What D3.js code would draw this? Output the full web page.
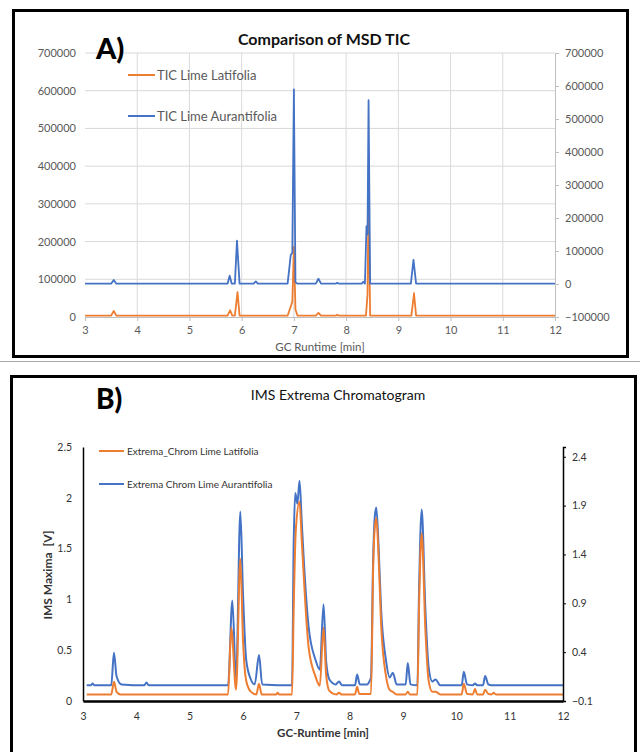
<!DOCTYPE html>
<html>
<head>
<meta charset="utf-8">
<script src="https://cdn.jsdelivr.net/npm/d3@7"></script>
<style>
  body { margin: 0; background: #fff; }
  svg { display: block; font-family: Lato, "Open Sans", sans-serif; }
</style>
</head>
<body>
<div id="chart"></div>
<script>
// ---- panel A: MSD TIC (orange on left axis, blue on right axis)
const ticTicksX = [3, 4, 5, 6, 7, 8, 9, 10, 11, 12];
const ticTicksLeft = [0, 100000, 200000, 300000, 400000, 500000, 600000, 700000];
const ticTicksRight = [-100000, 0, 100000, 200000, 300000, 400000, 500000, 600000, 700000];

const ticLatTime = [3.00, 3.50, 3.55, 3.60, 5.73, 5.78, 5.82, 5.87, 5.92, 5.96, 6.88, 6.94, 6.97, 7.00, 7.03, 7.07,
  7.42, 7.47, 7.52, 7.80, 7.83, 7.86, 8.38, 8.41, 8.43, 8.46, 9.25, 9.30, 9.34, 12.00];
const ticLatValue = [3500, 3500, 16000, 3500, 3500, 18000, 3500, 3500, 66000, 3500, 3500, 28000, 40000, 186000, 20000, 3500,
  3500, 11000, 3500, 3500, 6000, 3500, 3500, 60000, 310000, 3500, 3500, 63000, 3500, 3500];

const ticAurTime = [3.00, 3.50, 3.55, 3.60, 5.73, 5.77, 5.81, 5.87, 5.91, 5.96, 6.23, 6.27, 6.31, 6.88, 6.94, 6.97, 7.00, 7.03, 7.07,
  7.42, 7.47, 7.52, 7.80, 7.83, 7.86, 8.30, 8.33, 8.36, 8.39, 8.41, 8.43, 8.46, 9.24, 9.29, 9.34, 12.00];
const ticAurValue = [1000, 1000, 12000, 1000, 1000, 25000, 1000, 1000, 131000, 1000, 1000, 8000, 1000, 1000, 88000, 95000, 590000, 5000, 1000,
  1000, 16000, 1000, 1000, 4000, 1000, 1000, 7000, 1000, 175000, 150000, 557000, 1000, 1000, 73000, 1000, 1000];

// ---- panel B: IMS extrema (orange on left axis, blue on right axis)
const imsTicksX = [3, 4, 5, 6, 7, 8, 9, 10, 11, 12];
const imsTicksLeft = [0, 0.5, 1, 1.5, 2, 2.5];
const imsTicksRight = [-0.1, 0.4, 0.9, 1.4, 1.9, 2.4];

const imsLatTime = [3.07, 3.53, 3.58, 3.63, 3.70, 5.72, 5.78, 5.87, 5.95, 6.00, 6.06, 6.15, 6.25, 6.30, 6.35, 6.62, 6.65, 6.68,
  6.92, 6.95, 6.99, 7.06, 7.10, 7.14, 7.23, 7.36, 7.44, 7.51, 7.56, 7.62, 7.75, 7.80, 7.85,
  8.10, 8.14, 8.18, 8.40, 8.44, 8.47, 8.50, 8.54, 8.59, 8.68, 8.75, 8.81, 8.88, 9.05, 9.09, 9.13,
  9.27, 9.30, 9.35, 9.42, 9.48, 9.55, 9.61, 9.70, 10.10, 10.14, 10.20, 10.31, 10.35, 10.39,
  10.50, 10.54, 10.60, 10.66, 10.70, 10.74, 12.00];
const imsLatValue = [0.065, 0.065, 0.19, 0.09, 0.065, 0.065, 0.72, 0.11, 1.40, 0.60, 0.20, 0.09, 0.065, 0.17, 0.065, 0.065, 0.08, 0.065,
  0.065, 0.90, 1.68, 1.96, 1.60, 1.22, 0.53, 0.24, 0.15, 0.72, 0.25, 0.10, 0.065, 0.08, 0.065,
  0.065, 0.14, 0.07, 0.07, 1.30, 1.70, 1.80, 1.45, 0.75, 0.25, 0.11, 0.09, 0.065, 0.065, 0.09, 0.065,
  0.065, 0.90, 1.65, 0.70, 0.20, 0.09, 0.09, 0.065, 0.065, 0.17, 0.07, 0.065, 0.12, 0.065,
  0.065, 0.11, 0.07, 0.065, 0.08, 0.065, 0.065];

const imsAurTime = [3.07, 3.15, 3.18, 3.21, 3.53, 3.58, 3.63, 3.72, 4.15, 4.19, 4.23,
  5.72, 5.80, 5.87, 5.95, 6.00, 6.06, 6.14, 6.22, 6.30, 6.36, 6.92, 6.95, 6.98, 7.02, 7.06, 7.10, 7.14, 7.23, 7.36, 7.44,
  7.51, 7.56, 7.62, 7.74, 7.80, 7.86, 8.10, 8.14, 8.19, 8.33, 8.37, 8.40, 8.44, 8.47, 8.50, 8.54, 8.59, 8.68, 8.75, 8.81, 8.88,
  9.05, 9.09, 9.14, 9.27, 9.30, 9.35, 9.42, 9.48, 9.55, 9.61, 9.70, 10.10, 10.14, 10.20, 10.31, 10.35, 10.39,
  10.50, 10.54, 10.60, 10.66, 12.00];
const imsAurValue = [0.06, 0.06, 0.08, 0.06, 0.06, 0.395, 0.15, 0.07, 0.06, 0.09, 0.06,
  0.06, 0.93, 0.114, 1.84, 1.00, 0.32, 0.13, 0.07, 0.37, 0.07, 0.06, 1.50, 2.03, 1.92, 2.155, 1.75, 1.34, 0.66, 0.32, 0.22,
  0.89, 0.30, 0.12, 0.07, 0.10, 0.06, 0.06, 0.17, 0.07, 0.07, 0.10, 0.14, 1.34, 1.78, 1.88, 1.51, 0.83, 0.32, 0.14, 0.19, 0.07,
  0.07, 0.29, 0.07, 0.06, 1.00, 1.86, 0.83, 0.25, 0.10, 0.12, 0.06, 0.06, 0.20, 0.07, 0.06, 0.08, 0.06,
  0.06, 0.156, 0.07, 0.06, 0.06];

const orange = "#ED7D31", blue = "#4472C4";
const W = 640, H = 752;

const svg = d3.select("#chart").append("svg").attr("width", W).attr("height", H);

function zip(ts, vs) { return ts.map((t, i) => [t, vs[i]]); }

// ================= panel A =================
{
  const g = svg.append("g");
  const x = d3.scaleLinear().domain([3, 12]).range([85, 555]);
  const yL = d3.scaleLinear().domain([0, 700000]).range([317, 53]);
  const yR = d3.scaleLinear().domain([-100000, 700000]).range([317, 53]);

  // gridlines
  g.append("g").selectAll("line").data(ticTicksLeft.slice(1)).join("line")
    .attr("x1", x(3)).attr("x2", x(12)).attr("y1", d => yL(d)).attr("y2", d => yL(d))
    .attr("stroke", "#d9d9d9").attr("stroke-width", 1);
  g.append("g").selectAll("line").data(ticTicksX.slice(1, -1)).join("line")
    .attr("x1", d => x(d)).attr("x2", d => x(d)).attr("y1", yL(0)).attr("y2", yL(700000))
    .attr("stroke", "#d9d9d9").attr("stroke-width", 1);

  const axisColor = "#bfbfbf", textColor = "#595959";

  const xAxis = g.append("g").attr("transform", `translate(0,${yL(0)})`)
    .call(d3.axisBottom(x).tickValues(ticTicksX).tickSize(4).tickPadding(5).tickFormat(d3.format("d")));
  const yAxisL = g.append("g").attr("transform", `translate(${x(3)},0)`)
    .call(d3.axisLeft(yL).tickValues(ticTicksLeft).tickSize(0).tickPadding(9).tickFormat(d3.format("d")));
  const yAxisR = g.append("g").attr("transform", `translate(${x(12)},0)`)
    .call(d3.axisRight(yR).tickValues(ticTicksRight).tickSize(4).tickPadding(6).tickFormat(d3.format("d")));
  yAxisL.select(".domain").remove();
  [xAxis, yAxisR].forEach(a => {
    a.select(".domain").attr("stroke", axisColor);
    a.selectAll(".tick line").attr("stroke", axisColor);
  });
  [xAxis, yAxisL, yAxisR].forEach(a => a.selectAll("text")
    .attr("fill", textColor).style("font-size", "11px").style("font-family", "Lato, sans-serif"));

  const lineL = d3.line().x(d => x(d[0])).y(d => yL(d[1]));
  const lineR = d3.line().x(d => x(d[0])).y(d => yR(d[1]));
  g.append("path").datum(zip(ticLatTime, ticLatValue)).attr("d", lineL)
    .attr("fill", "none").attr("stroke", orange).attr("stroke-width", 1.8).attr("stroke-linejoin", "round");
  g.append("path").datum(zip(ticAurTime, ticAurValue)).attr("d", lineR)
    .attr("fill", "none").attr("stroke", blue).attr("stroke-width", 1.8).attr("stroke-linejoin", "round");

  // legend
  const legA = [["TIC Lime Latifolia", orange, 75], ["TIC Lime Aurantifolia", blue, 116]];
  legA.forEach(([label, c, ly]) => {
    g.append("line").attr("x1", 128).attr("x2", 155).attr("y1", ly).attr("y2", ly)
      .attr("stroke", c).attr("stroke-width", 2);
    g.append("text").attr("x", 157).attr("y", ly).attr("dy", "0.35em")
      .attr("fill", textColor).style("font-size", "13px").text(label);
  });

  g.append("text").attr("x", 324).attr("y", 45).attr("text-anchor", "middle")
    .style("font-size", "16px").style("font-weight", "bold").attr("fill", "#111").text("Comparison of MSD TIC");
  g.append("text").attr("x", 96).attr("y", 59)
    .style("font-size", "29px").style("font-weight", "900").attr("fill", "#000").text("A)");
  g.append("text").attr("x", 320).attr("y", 351).attr("text-anchor", "middle")
    .style("font-size", "11.5px").attr("fill", textColor).text("GC Runtime [min]");

  svg.append("rect").attr("x", 13.5).attr("y", 10.5).attr("width", 614).attr("height", 346)
    .attr("fill", "none").attr("stroke", "#000").attr("stroke-width", 3);
}

svg.append("line").attr("x1", 0).attr("x2", W).attr("y1", 361.5).attr("y2", 361.5)
  .attr("stroke", "#aaa").attr("stroke-width", 1);

// ================= panel B =================
{
  const g = svg.append("g");
  const x = d3.scaleLinear().domain([3, 12]).range([83, 563]);
  const yL = d3.scaleLinear().domain([0, 2.5]).range([701, 447]);
  const yR = d3.scaleLinear().domain([-0.1, 2.5]).range([701, 447]);
  const textColor = "#333";

  const lineL = d3.line().curve(d3.curveMonotoneX).x(d => x(d[0])).y(d => yL(d[1]));
  const lineR = d3.line().curve(d3.curveMonotoneX).x(d => x(d[0])).y(d => yR(d[1]));
  g.append("path").datum(zip(imsAurTime, imsAurValue)).attr("d", lineR)
    .attr("fill", "none").attr("stroke", blue).attr("stroke-width", 2).attr("stroke-linejoin", "round");
  g.append("path").datum(zip(imsLatTime, imsLatValue)).attr("d", lineL)
    .attr("fill", "none").attr("stroke", orange).attr("stroke-width", 2).attr("stroke-linejoin", "round");

  const xAxis = g.append("g").attr("transform", `translate(0,${yL(0)})`)
    .call(d3.axisBottom(x).tickValues(imsTicksX).tickSize(0).tickPadding(12).tickFormat(d3.format("d")));
  xAxis.select(".domain").attr("stroke", "#000").attr("stroke-width", 2.5);
  const yAxisL = g.append("g").attr("transform", `translate(${x(3)},0)`)
    .call(d3.axisLeft(yL).tickValues(imsTicksLeft).tickSize(0).tickPadding(11).tickFormat(d3.format("")));
  yAxisL.select(".domain").attr("stroke", "#000").attr("stroke-width", 1.5);
  const yAxisR = g.append("g").attr("transform", `translate(${x(12)},0)`)
    .call(d3.axisRight(yR).tickValues(imsTicksRight).tickSize(3).tickPadding(6).tickFormat(d3.format("")));
  yAxisR.select(".domain").attr("stroke", "#000").attr("stroke-width", 1.5);
  yAxisR.selectAll(".tick line").attr("stroke", "#000");
  [xAxis, yAxisL, yAxisR].forEach(a => a.selectAll("text")
    .attr("fill", textColor).style("font-size", "10.5px").style("font-family", "Lato, sans-serif"));

  const legB = [["Extrema_Chrom Lime Latifolia", orange, 451], ["Extrema Chrom Lime Aurantifolia", blue, 484]];
  legB.forEach(([label, c, ly]) => {
    g.append("line").attr("x1", 99).attr("x2", 124).attr("y1", ly).attr("y2", ly)
      .attr("stroke", c).attr("stroke-width", 2);
    g.append("text").attr("x", 127).attr("y", ly).attr("dy", "0.35em")
      .attr("fill", textColor).style("font-size", "10px").text(label);
  });

  g.append("text").attr("x", 338).attr("y", 400).attr("text-anchor", "middle")
    .style("font-size", "14px").attr("fill", "#111").text("IMS Extrema Chromatogram");
  g.append("text").attr("x", 96).attr("y", 409)
    .style("font-size", "28px").style("font-weight", "900").attr("fill", "#000").text("B)");
  g.append("text").attr("x", 323).attr("y", 737).attr("text-anchor", "middle")
    .style("font-size", "11.5px").style("font-weight", "bold").attr("fill", textColor).text("GC-Runtime [min]");
  g.append("text").attr("transform", "translate(52,575) rotate(-90)").attr("text-anchor", "middle")
    .style("font-size", "12px").style("font-weight", "bold").attr("fill", textColor)
    .attr("xml:space", "preserve").text("IMS Maxima  [V]");

  svg.append("rect").attr("x", 11.5).attr("y", 376.5).attr("width", 624).attr("height", 390)
    .attr("fill", "none").attr("stroke", "#000").attr("stroke-width", 3);
}
</script>
</body>
</html>
